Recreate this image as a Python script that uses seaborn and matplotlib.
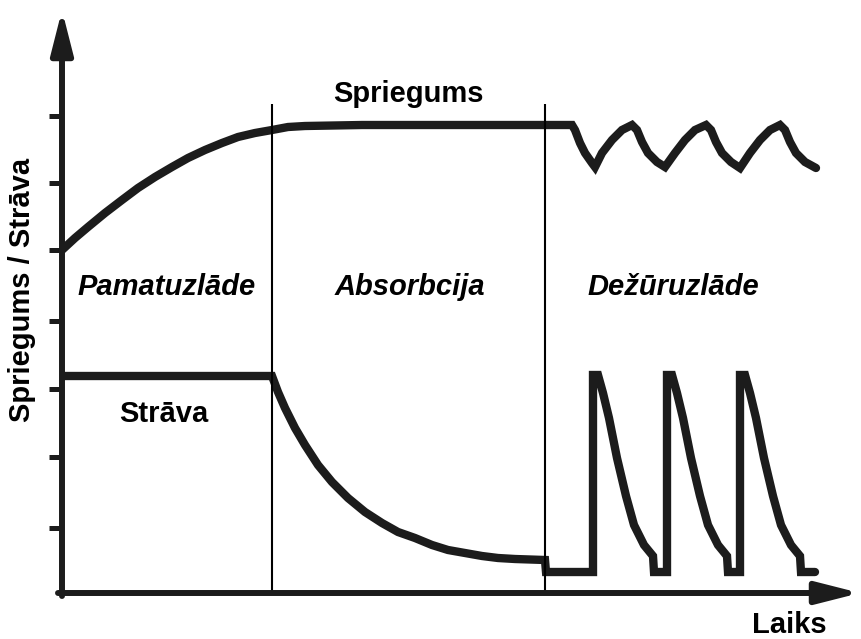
import matplotlib
matplotlib.use("Agg")
import matplotlib.pyplot as plt
import seaborn as sns

sns.set_theme(style="white")
plt.rcParams['font.family'] = ['Liberation Sans', 'DejaVu Sans']

# voltage curve (time, level) in arbitrary units
volt_t = [0, 13, 26, 43, 60, 76, 93, 110, 126, 143, 160, 176, 193, 210,
          226, 243, 300, 400, 510,
          513, 518, 523, 530, 533, 540, 550, 560, 570,
          575, 580, 586, 595, 603, 613, 623, 633, 644,
          649, 654, 660, 669, 678, 688, 698, 708, 718,
          723, 728, 734, 743, 754]
volt_v = [343, 355, 366, 380, 393, 405, 416, 426, 435, 443, 450, 456, 460, 463,
          466, 467, 468, 468, 468,
          463, 450, 440, 430, 426, 440, 453, 463, 468,
          463, 451, 440, 431, 426, 440, 453, 463, 468,
          463, 451, 440, 431, 425, 440, 453, 463, 468,
          463, 451, 440, 431, 425]

# current curve
curr_t = [0, 210, 216, 223, 233, 243, 256, 270, 286, 303, 320, 336, 353,
          370, 386, 403, 420, 436, 453, 483, 484, 531,
          531, 536, 541, 547, 555, 564, 572, 582, 591, 592, 605,
          605, 610, 615, 621, 629, 638, 646, 656, 665, 666, 678,
          678, 683, 688, 694, 702, 711, 719, 729, 738, 739, 753]
curr_v = [217, 217, 201, 185, 165, 148, 128, 111, 95, 81, 70, 61, 55,
          48, 43, 40, 37, 35, 34, 33, 21, 21,
          218, 218, 200, 175, 135, 97, 68, 48, 37, 21, 21,
          218, 218, 200, 175, 135, 97, 68, 48, 37, 21, 21,
          218, 218, 200, 175, 135, 97, 68, 48, 37, 21, 21]

stage_bounds = [210, 483]
stage_names = ['Pamatuzlāde', 'Absorbcija', 'Dežūruzlāde']
stage_centers = [105, 348, 611]
y_ticks = [477, 410, 343, 272, 204, 136, 65]

fig = plt.figure(figsize=(8.61, 6.39), dpi=100)
ax = fig.add_axes([62 / 861, 46 / 639, 798 / 861, 583 / 639])
ax.set_xlim(0, 798)
ax.set_ylim(0, 583)
for s in ax.spines.values():
    s.set_visible(False)

ink = '#1c1c1c'
sns.lineplot(x=volt_t, y=volt_v, sort=False, estimator=None, ax=ax,
             color=ink, lw=6.0, solid_joinstyle='miter')
sns.lineplot(x=curr_t, y=curr_v, sort=False, estimator=None, ax=ax,
             color=ink, lw=6.0, solid_joinstyle='miter')

ax.vlines(stage_bounds, 0, 489, color='black', lw=1.5)

# axes with arrows
arrow = dict(arrowstyle='-|>,head_length=1.3,head_width=0.33', lw=4.3,
             color=ink, mutation_scale=20, shrinkA=0, shrinkB=0)
ax.annotate('', xy=(798, 0), xytext=(-4, 0), arrowprops=arrow, annotation_clip=False)
ax.annotate('', xy=(0, 583), xytext=(0, -3), arrowprops=arrow, annotation_clip=False)

ax.set_xticks([])
ax.set_yticks(y_ticks)
ax.set_yticklabels([])
ax.tick_params(axis='y', direction='out', length=9.5, width=3.6, color=ink, left=True)
ax.set_xlabel('')
ax.set_ylabel('')

tfont = dict(fontsize=21, fontweight='bold', color='black')
for name, c in zip(stage_names, stage_centers):
    ax.text(c, 298, name, ha='center', va='baseline', style='italic', **tfont)
ax.text(346, 491, 'Spriegums', ha='center', va='baseline', **tfont)
ax.text(102, 171, 'Strāva', ha='center', va='baseline', **tfont)
ax.text(727, -40, 'Laiks', ha='center', va='baseline', **tfont)
fig.text(22 / 861, 1 - 290 / 639, 'Spriegums / Strāva', rotation=90,
         ha='center', va='center', **tfont)

fig.savefig('out.png', dpi=100)
